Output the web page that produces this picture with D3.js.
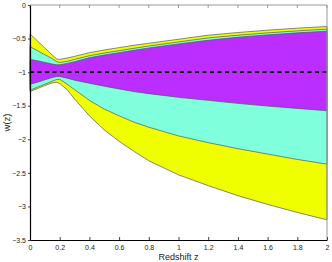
<!DOCTYPE html>
<html>
<head>
<meta charset="utf-8">
<script src="https://cdn.jsdelivr.net/npm/d3@7"></script>
<style>
body { margin: 0; background: #fff; }
svg { display: block; font-family: "Liberation Sans", Arial, sans-serif; }
</style>
</head>
<body>
<svg id="chart" width="332" height="262"></svg>
<script>
// redshift grid
const redshift = [0, 0.05, 0.1, 0.15, 0.18, 0.2, 0.25, 0.3, 0.4, 0.5, 0.6, 0.7, 0.8, 1.0, 1.2, 1.4, 1.6, 1.8, 2.0];

// outer band (yellow)
const yellowUpper = [-0.43, -0.535, -0.64, -0.745, -0.805, -0.81, -0.79, -0.765, -0.71, -0.67, -0.635, -0.60, -0.57, -0.51, -0.45, -0.41, -0.375, -0.345, -0.32];
const yellowLower = [-1.29, -1.245, -1.2, -1.16, -1.15, -1.17, -1.26, -1.40, -1.65, -1.86, -2.03, -2.18, -2.32, -2.53, -2.69, -2.84, -2.97, -3.09, -3.20];

// middle band (cyan)
const cyanUpper = [-0.62, -0.68, -0.74, -0.80, -0.845, -0.855, -0.84, -0.81, -0.755, -0.715, -0.68, -0.645, -0.61, -0.55, -0.49, -0.45, -0.415, -0.385, -0.36];
const cyanLower = [-1.27, -1.225, -1.18, -1.135, -1.11, -1.105, -1.18, -1.26, -1.42, -1.55, -1.65, -1.745, -1.82, -1.95, -2.05, -2.14, -2.22, -2.30, -2.37];

// inner band (purple)
const purpleUpper = [-0.81, -0.83, -0.855, -0.88, -0.89, -0.89, -0.87, -0.845, -0.785, -0.745, -0.71, -0.675, -0.64, -0.58, -0.525, -0.48, -0.445, -0.415, -0.39];
const purpleLower = [-1.18, -1.15, -1.115, -1.08, -1.065, -1.065, -1.09, -1.12, -1.165, -1.21, -1.25, -1.29, -1.32, -1.375, -1.42, -1.465, -1.505, -1.54, -1.575];

const xTicks = [0, 0.2, 0.4, 0.6, 0.8, 1, 1.2, 1.4, 1.6, 1.8, 2];
const yTicks = [0, -0.5, -1, -1.5, -2, -2.5, -3, -3.5];

const svg = d3.select("#chart");
const plotLeft = 30, plotRight = 327, plotTop = 5, plotBottom = 240;

const x = d3.scaleLinear().domain([0, 2]).range([plotLeft, plotRight]);
const y = d3.scaleLinear().domain([-3.5, 0]).range([plotBottom, plotTop]);

const bands = [
    { upper: yellowUpper, lower: yellowLower, color: "#f0ff00" },
    { upper: cyanUpper, lower: cyanLower, color: "#7fffdc" },
    { upper: purpleUpper, lower: purpleLower, color: "#bb2eff" }
];

const area = d3.area()
    .x(d => x(d.z))
    .y0(d => y(d.lo))
    .y1(d => y(d.hi));

bands.forEach(b => {
    const rows = redshift.map((z, i) => ({ z: z, lo: b.lower[i], hi: b.upper[i] }));
    svg.append("path")
        .datum(rows)
        .attr("d", area)
        .attr("fill", b.color)
        .attr("stroke", "#555")
        .attr("stroke-width", 0.7);
});

// w = -1 reference
svg.append("line")
    .attr("x1", x(0)).attr("x2", x(2))
    .attr("y1", y(-1)).attr("y2", y(-1))
    .attr("stroke", "#111")
    .attr("stroke-width", 1.6)
    .attr("stroke-dasharray", "4,3.5");

// frame: grey top/right, black left/bottom
svg.append("line").attr("x1", plotLeft).attr("x2", plotRight).attr("y1", plotTop).attr("y2", plotTop)
    .attr("stroke", "#999").attr("stroke-width", 1);
svg.append("line").attr("x1", plotRight).attr("x2", plotRight).attr("y1", plotTop).attr("y2", plotBottom)
    .attr("stroke", "#999").attr("stroke-width", 1);

// top ticks
svg.append("g").selectAll("line")
    .data(xTicks)
    .join("line")
    .attr("x1", d => x(d)).attr("x2", d => x(d))
    .attr("y1", plotTop).attr("y2", plotTop + 3)
    .attr("stroke", "#999");

const xAxis = svg.append("g")
    .attr("transform", `translate(0,${plotBottom})`)
    .call(d3.axisBottom(x).tickValues(xTicks).tickSizeInner(-3).tickSizeOuter(0).tickPadding(5)
        .tickFormat(d => String(d)));
xAxis.select(".domain").attr("stroke", "#000").attr("stroke-width", 1.2);
xAxis.selectAll(".tick line").attr("stroke", "#444");
xAxis.selectAll("text").attr("font-size", 7).attr("fill", "#222").attr("dy", null).attr("y", 10);

const yAxis = svg.append("g")
    .attr("transform", `translate(${plotLeft},0)`)
    .call(d3.axisLeft(y).tickValues(yTicks).tickSizeInner(2).tickSizeOuter(0).tickPadding(2)
        .tickFormat(d => String(d).replace("-", "\u2212")));
yAxis.select(".domain").attr("stroke", "#000").attr("stroke-width", 1.2);
yAxis.selectAll(".tick line").attr("stroke", "#444");
yAxis.selectAll("text").attr("font-size", 7).attr("fill", "#222");

svg.append("text")
    .attr("x", x(1)).attr("y", 260)
    .attr("text-anchor", "middle")
    .attr("font-size", 9)
    .attr("fill", "#222")
    .text("Redshift z");

svg.append("text")
    .attr("transform", `translate(10,${y(-1.75)}) rotate(-90)`)
    .attr("text-anchor", "middle")
    .attr("font-size", 9.5)
    .attr("fill", "#222")
    .text("w(z)");
</script>
</body>
</html>
